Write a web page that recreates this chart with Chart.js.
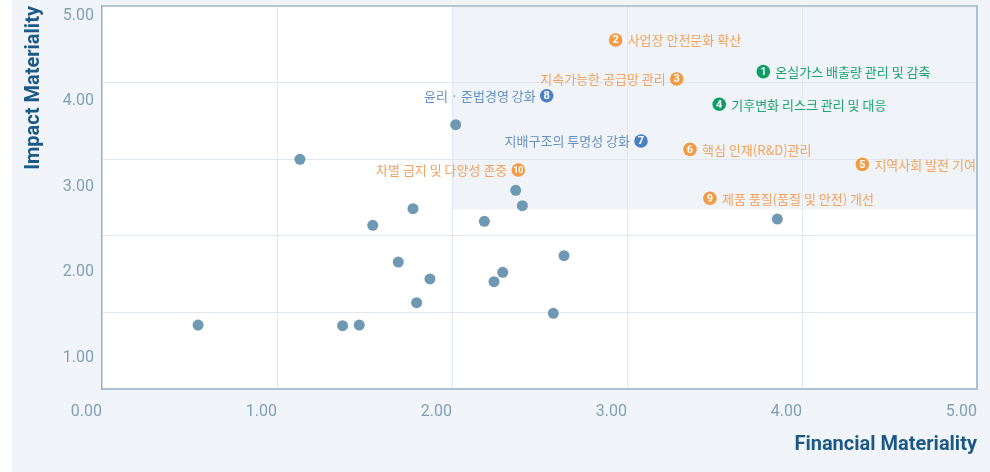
<!DOCTYPE html>
<html><head><meta charset="utf-8">
<script src="https://cdn.jsdelivr.net/npm/chart.js@4"></script>
<style>
html,body{margin:0;padding:0;background:#fff;}
#wrap{position:absolute;left:12px;top:0;width:978px;height:472px;background:#f1f5f9;}
canvas{display:block;}
</style></head><body>
<div id="wrap"><canvas id="c" width="978" height="472"></canvas></div>
<script>
// ---- data ----
const financialScores = [0.549,1.131,1.375,1.470,1.547,1.693,1.777,1.798,1.874,2.021,2.185,2.240,2.290,2.364,2.402,2.579,2.640,3.859];
const impactScores    = [1.385,3.321,1.377,1.385,2.550,2.121,2.744,1.646,1.923,3.725,2.596,1.891,2.001,2.959,2.779,1.522,2.195,2.623];

const issueNumbers   = [1,2,3,4,5,6,7,8,9,10];
const issueNames     = ['온실가스 배출량 관리 및 감축','사업장 안전문화 확산','지속가능한 공급망 관리','기후변화 리스크 관리 및 대응','지역사회 발전 기여','핵심 인재(R&D)관리','지배구조의 투명성 강화','윤리 · 준법경영 강화','제품 품질(품질 및 안전) 개선','차별 금지 및 다양성 존중'];
const issueGroups    = ['E','S','S','E','S','S','G','G','S','S'];
const issueFinancial = [3.779,2.935,3.284,3.527,4.345,3.360,3.080,2.541,3.474,2.379];
const issueImpact    = [4.344,4.714,4.258,3.963,3.262,3.437,3.534,4.063,2.865,3.196];

const xTickLabels = ['0.00','1.00','2.00','3.00','4.00','5.00'];
const yTickValues = [1,2,3,4,5];
const yTickLabels = ['1.00','2.00','3.00','4.00','5.00'];

const highFinancial = 2.0;
const highImpact = 2.734;

// ---- styles ----
const textLeftOf = [3,7,8,10];
const palette = {
  E:{badge:'#0e9d63', text:'#1ea56f'},
  S:{badge:'#f39a45', text:'#f3a25f'},
  G:{badge:'#4b80c2', text:'#6790c5'}
};
const tickColor = '#7f9fb6';
const titleColor = '#1c5986';
const gridColor = '#e0e7ee';
const edgeColor = '#a9c1d1';

const bgPlugin = {
  id:'bg',
  beforeDraw(chart){
    const {ctx, chartArea:a, scales} = chart;
    ctx.save();
    ctx.fillStyle = '#ffffff';
    ctx.fillRect(a.left, a.top, a.right - a.left, a.bottom - a.top);
    const x0 = scales.x.getPixelForValue(highFinancial);
    const y0 = scales.y.getPixelForValue(highImpact);
    ctx.fillStyle = '#f0f4f8';
    ctx.fillRect(x0, a.top, a.right - x0, y0 - a.top);
    ctx.restore();
  }
};

const labelPlugin = {
  id:'issueLabels',
  afterDatasetsDraw(chart){
    const {ctx, scales:{x, y}} = chart;
    ctx.save();
    issueNumbers.forEach((n, i) => {
      const px = x.getPixelForValue(issueFinancial[i]);
      const py = y.getPixelForValue(issueImpact[i]);
      const pal = palette[issueGroups[i]];
      ctx.beginPath();
      ctx.arc(px, py, 6.8, 0, Math.PI * 2);
      ctx.fillStyle = pal.badge;
      ctx.fill();
      ctx.fillStyle = '#ffffff';
      ctx.font = 'bold ' + (n > 9 ? 9 : 11) + 'px Roboto';
      ctx.textAlign = 'center';
      ctx.textBaseline = 'middle';
      ctx.fillText(String(n), px, py + 0.5);
      ctx.font = '13px "Noto Sans CJK KR"';
      ctx.fillStyle = pal.text;
      if (textLeftOf.includes(n)) {
        ctx.textAlign = 'right';
        ctx.fillText(issueNames[i], px - 11, py + 0.5);
      } else {
        ctx.textAlign = 'left';
        ctx.fillText(issueNames[i], px + 12, py + 0.5);
      }
    });
    ctx.restore();
  }
};

const noPad = (s) => { s.paddingTop = 0; s.paddingBottom = 0; s.paddingLeft = 0; s.paddingRight = 0; };

new Chart(document.getElementById('c'), {
  type:'scatter',
  data:{datasets:[{
    data: financialScores.map((v, i) => ({x: v, y: impactScores[i]})),
    backgroundColor:'#6f99b2', borderWidth:0, pointRadius:5.5, pointHoverRadius:5.5,
    xAxisID:'x', yAxisID:'y'
  }]},
  options:{
    responsive:false, animation:false, devicePixelRatio:1,
    layout:{padding:{top:6, right:13, bottom:0, left:0}},
    plugins:{legend:{display:false}, tooltip:{enabled:false}},
    scales:{
      x:{
        type:'linear', position:'bottom', min:0, max:5,
        ticks:{stepSize:1, align:'end', padding:13, color:tickColor, font:{family:'Roboto', size:16},
               callback:(v, i) => xTickLabels[i]},
        grid:{drawTicks:false, color:(c) => (c.tick && (c.tick.value === 0 || c.tick.value === 5)) ? 'rgba(0,0,0,0)' : gridColor},
        border:{display:true, color:edgeColor, width:2},
        title:{display:true, text:'Financial Materiality', align:'end', color:titleColor,
               font:{family:'Roboto', size:20, weight:'bold'}, padding:{top:0, bottom:15}},
        afterFit:(s) => { s.height = 83; noPad(s); }
      },
      y:{
        type:'linear', position:'left', min:0.638, max:5.111,
        afterBuildTicks:(s) => { s.ticks = yTickValues.map(v => ({value:v})); },
        ticks:{padding:8, color:tickColor, font:{family:'Roboto', size:16},
               callback:(v, i) => yTickLabels[i]},
        grid:{display:false, drawTicks:false},
        border:{display:true, color:'#93b2c6', width:1.5},
        title:{display:true, text:'Impact Materiality', align:'end', color:titleColor,
               font:{family:'Roboto', size:20, weight:'bold'}, padding:{top:10, bottom:0}},
        afterFit:(s) => { s.width = 90; noPad(s); }
      },
      yg:{
        type:'linear', position:'right', min:0, max:5,
        ticks:{display:false, stepSize:1},
        grid:{drawTicks:false,
              color:(c) => !c.tick ? gridColor : (c.tick.value === 0 ? 'rgba(0,0,0,0)' : (c.tick.value === 5 ? '#b3c7d5' : gridColor)),
              lineWidth:(c) => (c.tick && c.tick.value === 5) ? 2 : 1},
        border:{display:true, color:edgeColor, width:2},
        afterFit:(s) => { s.width = 0; noPad(s); }
      }
    }
  },
  plugins:[bgPlugin, labelPlugin]
});
</script>
</body></html>
